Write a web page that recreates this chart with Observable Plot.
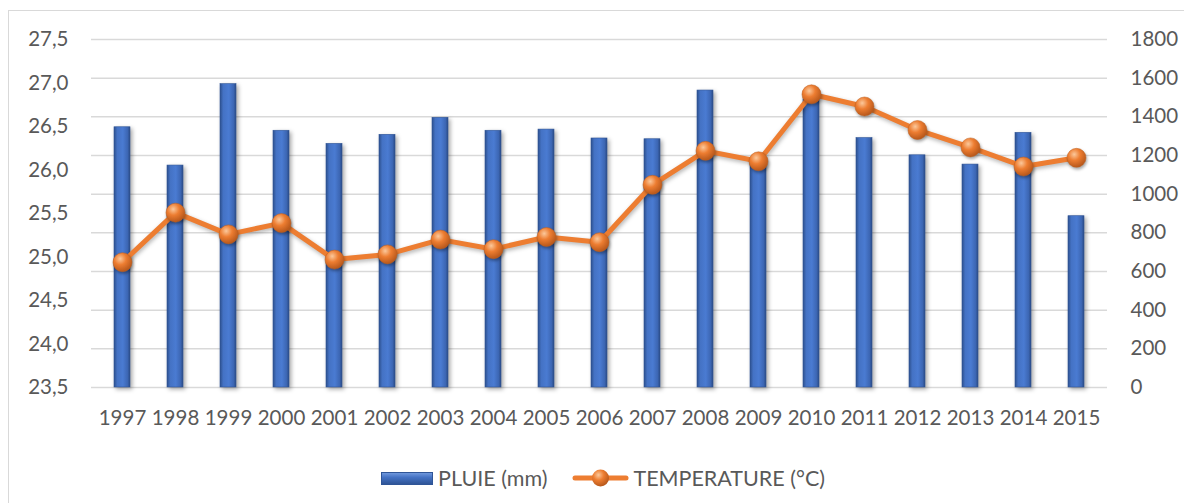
<!DOCTYPE html>
<html>
<head>
<meta charset="utf-8">
<script src="https://cdn.jsdelivr.net/npm/d3@7"></script>
<script src="https://cdn.jsdelivr.net/npm/@observablehq/plot@0.6"></script>
<style>
  html, body { margin: 0; padding: 0; background: #fff; }
  body { width: 1184px; height: 503px; overflow: hidden; font-family: Lato, "Open Sans", sans-serif; }
  #wrap { position: relative; width: 1184px; height: 503px; }
  #frame { position: absolute; left: 8px; top: 10px; width: 1200px; height: 520px; border: 1.5px solid #d9d9d9; box-sizing: border-box; }
  #chart { position: absolute; left: 0; top: 0; }
  #legend { position: absolute; left: 381px; top: 465px; display: flex; align-items: center; font-size: 21.5px; color: #595959; white-space: nowrap; }
  .sw-bar { width: 52px; height: 13px; background: linear-gradient(#6f97dc, #4472c4 40%, #2f5597); border: 1px solid #2f5597; box-sizing: border-box; margin-right: 5px; }
  .sw-line { margin-left: 25px; margin-right: 4px; }
</style>
</head>
<body>
<div id="wrap">
  <div id="frame"></div>
  <div id="chart"></div>
  <div id="legend">
    <div class="sw-bar"></div><span>PLUIE (mm)</span>
    <svg class="sw-line" width="57" height="20" viewBox="0 0 57 20">
      <defs>
        <radialGradient id="sphereL" cx="0.38" cy="0.32" r="0.7">
          <stop offset="0" stop-color="#fbc89b"/>
          <stop offset="0.45" stop-color="#ed7d31"/>
          <stop offset="1" stop-color="#b5561a"/>
        </radialGradient>
      </defs>
      <line x1="3" y1="10" x2="54" y2="10" stroke="#ed7d31" stroke-width="5" stroke-linecap="round"/>
      <circle cx="28.5" cy="10" r="8.5" fill="url(#sphereL)"/>
    </svg><span>TEMPERATURE (°C)</span>
  </div>
</div>
<script>
const years = ["1997","1998","1999","2000","2001","2002","2003","2004","2005","2006","2007","2008","2009","2010","2011","2012","2013","2014","2015"];
const pluie = [1346,1148,1569,1328,1260,1307,1395,1328,1334,1288,1284,1536,1180,1490,1290,1201,1153,1317,886];
const temperature = [24.94,25.51,25.26,25.39,24.97,25.03,25.20,25.09,25.23,25.17,25.83,26.22,26.10,26.87,26.73,26.46,26.26,26.04,26.14];
const rainTicks = [0,200,400,600,800,1000,1200,1400,1600,1800];
const tempTicks = [23.5,24.0,24.5,25.0,25.5,26.0,26.5,27.0,27.5];

// Secondary (left) axis: temperature 23.5–27.5 mapped onto rain scale 0–1800
const tMin = 23.5, tMax = 27.5, rMax = 1800;
const toRain = t => (t - tMin) / (tMax - tMin) * rMax;

const rainData = years.map((y, i) => ({year: y, value: pluie[i]}));
const tempData = years.map((y, i) => ({year: y, t: temperature[i], yv: toRain(temperature[i])}));

const fmtT = v => d3.format(".1f")(v).replace(".", ",");

const W = 1184, H = 440;
const FS = 20.5;
const chart = Plot.plot({
  width: W,
  height: H,
  marginLeft: 91,
  marginRight: 77,
  marginTop: 39,
  marginBottom: H - 387,
  style: {fontFamily: "Lato, 'Open Sans', sans-serif", fontSize: FS + "px", color: "#595959", background: "transparent", overflow: "visible"},
  x: {type: "band", domain: years, paddingInner: 0.69, paddingOuter: 0.345, label: null},
  y: {domain: [0, rMax], label: null},
  marks: [
    Plot.gridY(rainTicks, {stroke: "#d9d9d9", strokeOpacity: 1, strokeWidth: 1.5}),
    Plot.barY(rainData, {x: "year", y: "value", fill: "url(#barGrad)", stroke: "#2f5597", strokeWidth: 0.6, className: "bars"}),
    Plot.line(tempData, {x: "year", y: "yv", stroke: "#ed7d31", strokeWidth: 5, strokeLinejoin: "round", className: "tline"}),
    Plot.dot(tempData, {x: "year", y: "yv", r: 9.5, fill: "url(#sphere)", stroke: "#c0601f", strokeWidth: 0.5, className: "tdots"}),
    Plot.axisX({tickSize: 0, tickPadding: 23, fontSize: FS, fill: "#595959", label: null}),
    Plot.axisY({anchor: "right", ticks: rainTicks, tickFormat: d3.format("d"), tickSize: 0, tickPadding: 23, textAnchor: "start", fontSize: FS, fill: "#595959", label: null}),
    Plot.axisY({anchor: "left", ticks: tempTicks.map(toRain), tickFormat: v => fmtT(tMin + v / rMax * (tMax - tMin)), tickSize: 0, tickPadding: 23, fontSize: FS, fill: "#595959", label: null})
  ]
});

const svg = d3.select(chart);
const defs = svg.insert("defs", ":first-child");
const bg = defs.append("linearGradient").attr("id", "barGrad").attr("x1", 0).attr("x2", 1).attr("y1", 0).attr("y2", 0);
bg.append("stop").attr("offset", 0).attr("stop-color", "#2c4f8c");
bg.append("stop").attr("offset", 0.2).attr("stop-color", "#4472c4");
bg.append("stop").attr("offset", 0.55).attr("stop-color", "#4a7bd2");
bg.append("stop").attr("offset", 0.85).attr("stop-color", "#3c66b3");
bg.append("stop").attr("offset", 1).attr("stop-color", "#2a4a84");
const sg = defs.append("radialGradient").attr("id", "sphere").attr("cx", 0.38).attr("cy", 0.32).attr("r", 0.7);
sg.append("stop").attr("offset", 0).attr("stop-color", "#fbc89b");
sg.append("stop").attr("offset", 0.45).attr("stop-color", "#ed7d31");
sg.append("stop").attr("offset", 1).attr("stop-color", "#b5561a");
svg.selectAll(".bars").style("filter", "drop-shadow(2px 2px 2px rgba(0,0,0,0.35))");
svg.selectAll(".tline").style("filter", "drop-shadow(1px 2px 2px rgba(0,0,0,0.3))");
svg.selectAll(".tdots").style("filter", "drop-shadow(1px 2px 1.5px rgba(0,0,0,0.35))");

document.getElementById("chart").appendChild(chart);
</script>
</body>
</html>
